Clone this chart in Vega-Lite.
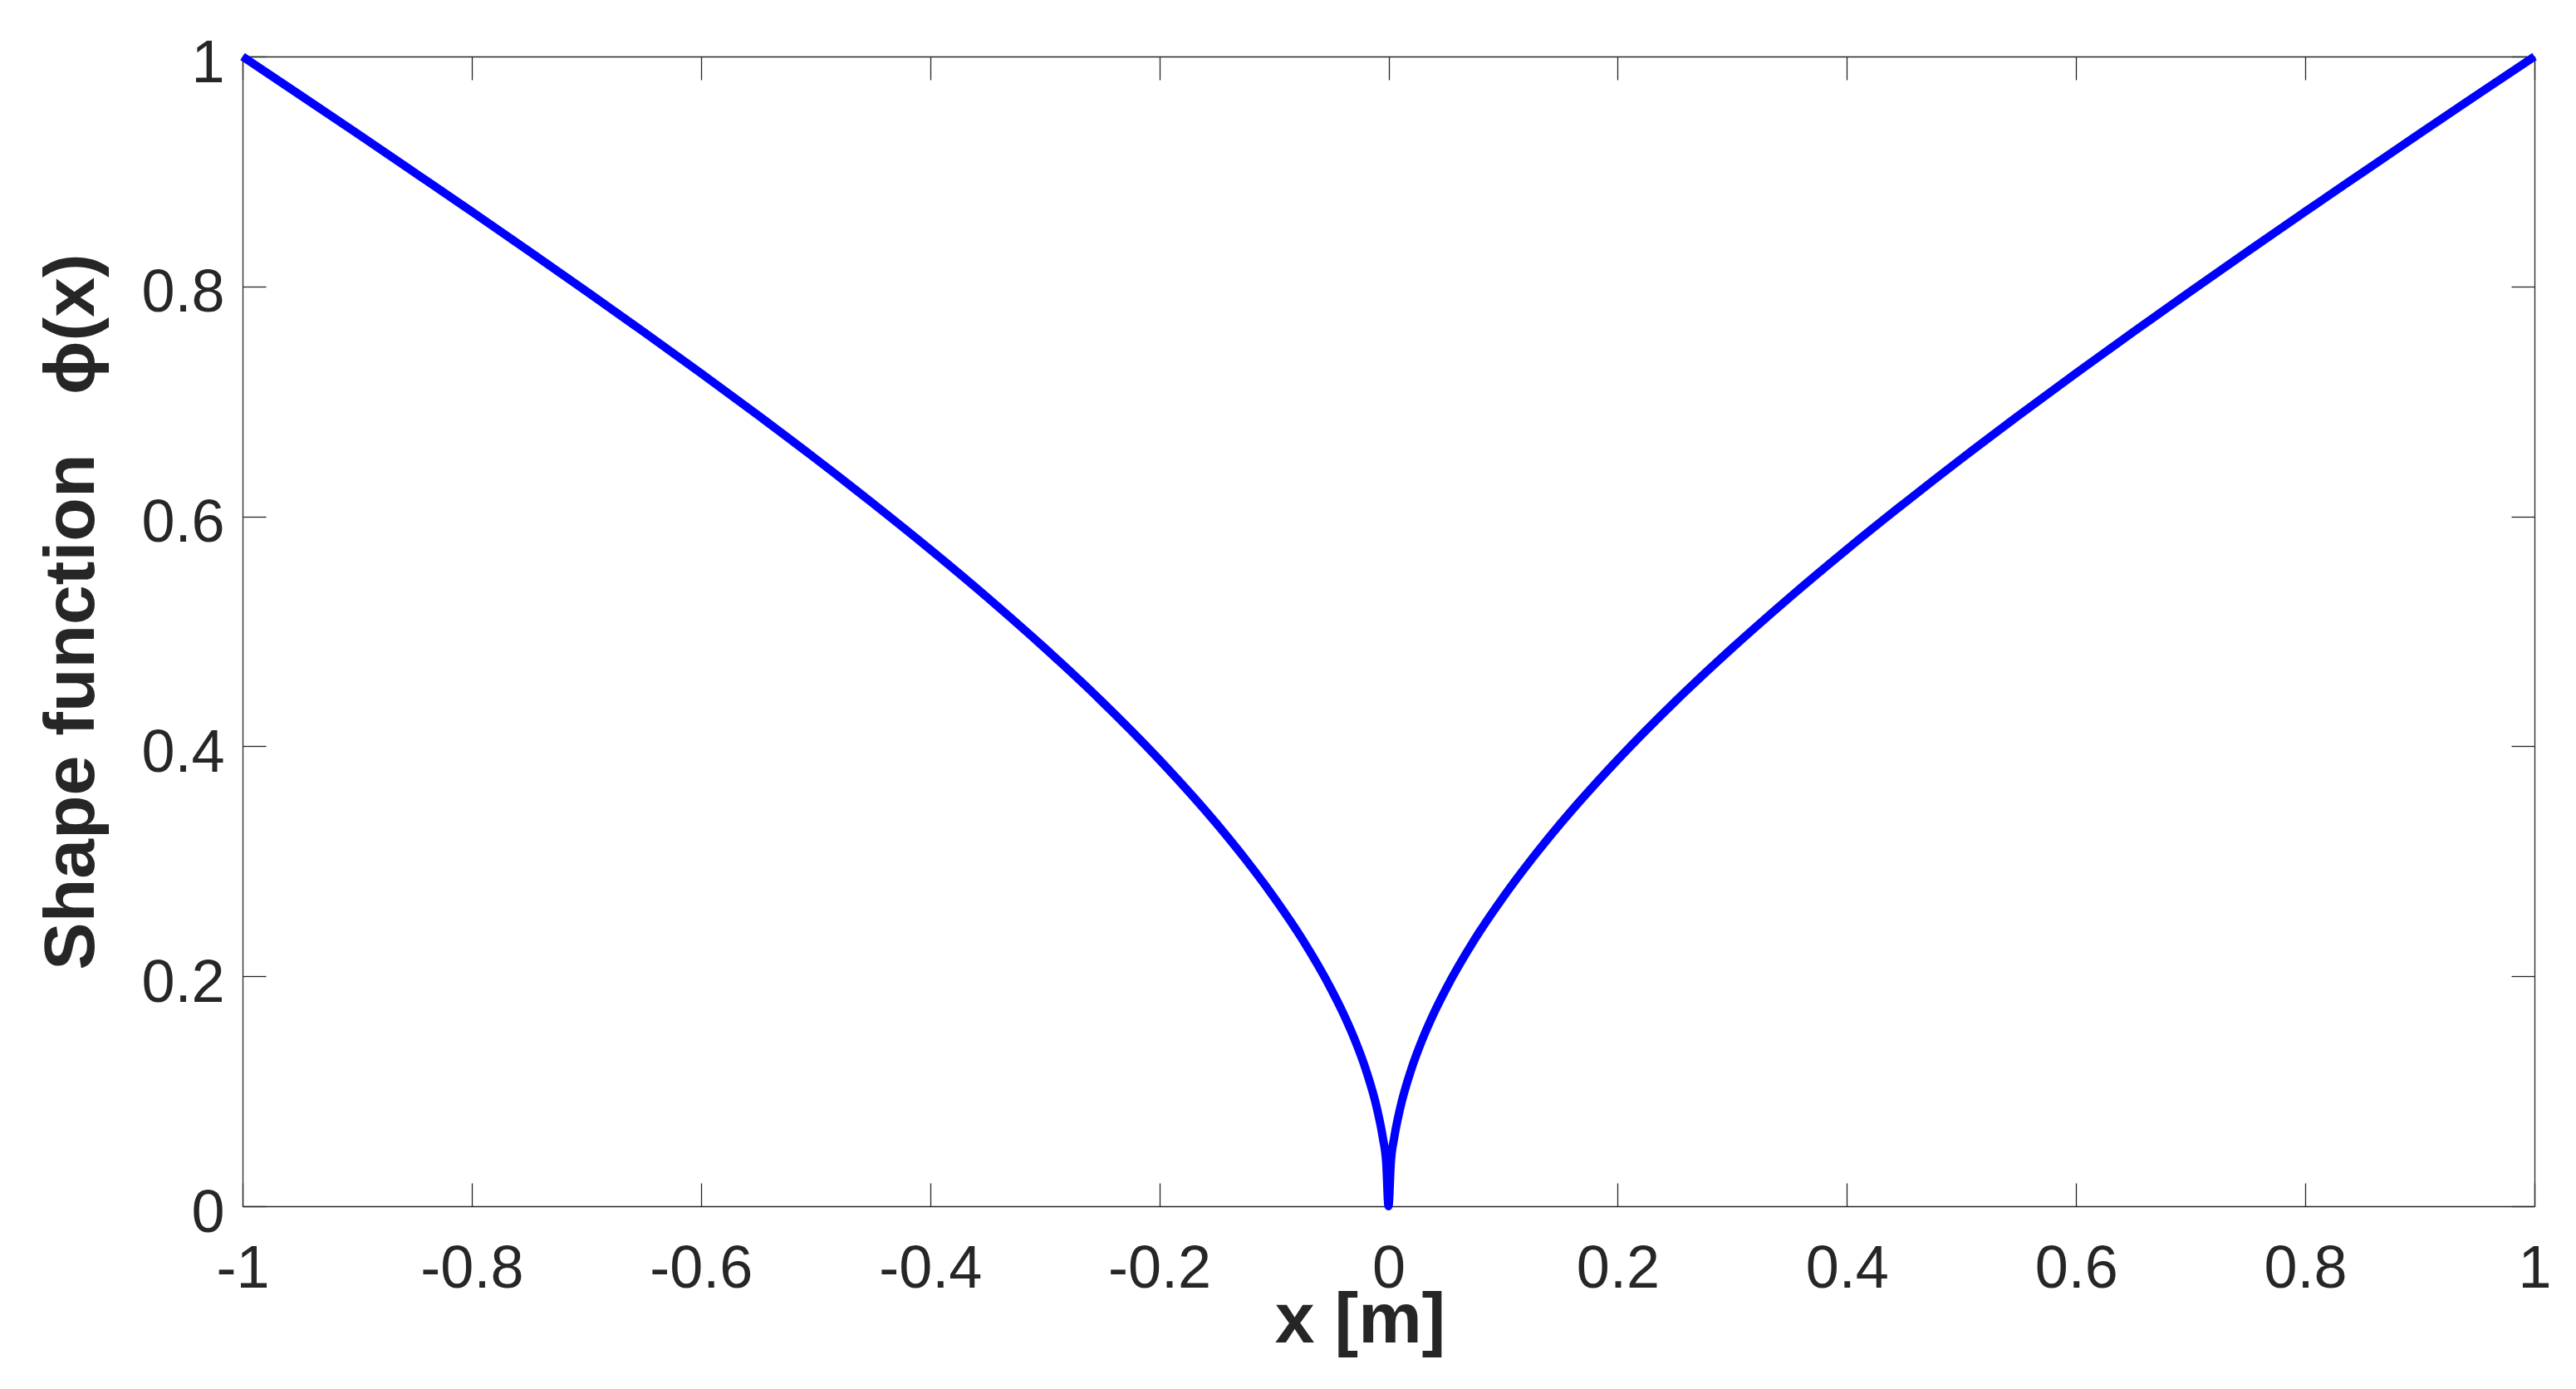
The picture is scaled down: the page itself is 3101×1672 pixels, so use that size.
{
  "$schema": "https://vega.github.io/schema/vega-lite/v6.json",
  "autosize": {"type": "none"},
  "width": 2759,
  "height": 1384,
  "padding": {"left": 292, "top": 68, "right": 50, "bottom": 220},
  "background": "white",
  "config": {"view": {"stroke": null}, "font": "Liberation Sans"},
  "data": {
    "values": [
      {"x": -1, "phi": 1},
      {"x": -0.95, "phi": 0.9666},
      {"x": -0.9, "phi": 0.933},
      {"x": -0.85, "phi": 0.8991},
      {"x": -0.8, "phi": 0.8651},
      {"x": -0.75, "phi": 0.8306},
      {"x": -0.7, "phi": 0.7958},
      {"x": -0.65, "phi": 0.7605},
      {"x": -0.6, "phi": 0.7245},
      {"x": -0.55, "phi": 0.6878},
      {"x": -0.5, "phi": 0.6502},
      {"x": -0.45, "phi": 0.6114},
      {"x": -0.4, "phi": 0.5713},
      {"x": -0.35, "phi": 0.5295},
      {"x": -0.3, "phi": 0.4855},
      {"x": -0.25, "phi": 0.4389},
      {"x": -0.2, "phi": 0.3884},
      {"x": -0.15, "phi": 0.3327},
      {"x": -0.125, "phi": 0.302},
      {"x": -0.1, "phi": 0.2687},
      {"x": -0.075, "phi": 0.2318},
      {"x": -0.05, "phi": 0.1887},
      {"x": -0.04, "phi": 0.1688},
      {"x": -0.03, "phi": 0.1462},
      {"x": -0.02, "phi": 0.1195},
      {"x": -0.01, "phi": 0.0846},
      {"x": -0.005, "phi": 0.0598},
      {"x": -0.002, "phi": 0.0378},
      {"x": 0, "phi": 0},
      {"x": 0.002, "phi": 0.0378},
      {"x": 0.005, "phi": 0.0598},
      {"x": 0.01, "phi": 0.0846},
      {"x": 0.02, "phi": 0.1195},
      {"x": 0.03, "phi": 0.1462},
      {"x": 0.04, "phi": 0.1688},
      {"x": 0.05, "phi": 0.1887},
      {"x": 0.075, "phi": 0.2318},
      {"x": 0.1, "phi": 0.2687},
      {"x": 0.125, "phi": 0.302},
      {"x": 0.15, "phi": 0.3327},
      {"x": 0.2, "phi": 0.3884},
      {"x": 0.25, "phi": 0.4389},
      {"x": 0.3, "phi": 0.4855},
      {"x": 0.35, "phi": 0.5295},
      {"x": 0.4, "phi": 0.5713},
      {"x": 0.45, "phi": 0.6114},
      {"x": 0.5, "phi": 0.6502},
      {"x": 0.55, "phi": 0.6878},
      {"x": 0.6, "phi": 0.7245},
      {"x": 0.65, "phi": 0.7605},
      {"x": 0.7, "phi": 0.7958},
      {"x": 0.75, "phi": 0.8306},
      {"x": 0.8, "phi": 0.8651},
      {"x": 0.85, "phi": 0.8991},
      {"x": 0.9, "phi": 0.933},
      {"x": 0.95, "phi": 0.9666},
      {"x": 1, "phi": 1}
    ]
  },
  "layer": [
    {
      "mark": {"type": "line", "color": "#0000ff", "strokeWidth": 10, "interpolate": "monotone"},
      "encoding": {
        "x": {
          "field": "x", "type": "quantitative",
          "scale": {"domain": [-1, 1], "nice": false, "zero": false},
          "axis": {
            "orient": "bottom",
            "values": [-1, -0.8, -0.6, -0.4, -0.2, 0, 0.2, 0.4, 0.6, 0.8, 1],
            "labelExpr": "toString(datum.value)",
            "labelFont": "Liberation Sans", "labelFontSize": 72, "labelColor": "#262626",
            "labelPadding": 68, "labelFlush": false, "labelOverlap": false, "labelBound": false,
            "tickSize": -28, "tickColor": "#262626", "tickWidth": 1.3,
            "domainColor": "#262626", "domainWidth": 1.3, "grid": false,
            "title": "x [m]", "titleFont": "Liberation Sans", "titleFontSize": 86, "titleFontWeight": "bold",
            "titleColor": "#262626", "titleX": 1345, "titleY": 163, "titleBaseline": "alphabetic", "titleAlign": "center"
          }
        },
        "y": {
          "field": "phi", "type": "quantitative",
          "scale": {"domain": [0, 1], "nice": false, "zero": false},
          "axis": {
            "orient": "left",
            "values": [0, 0.2, 0.4, 0.6, 0.8, 1],
            "labelExpr": "toString(datum.value)",
            "labelFont": "Liberation Sans", "labelFontSize": 72, "labelColor": "#262626",
            "labelPadding": 50, "labelOffset": 8, "labelFlush": false, "labelOverlap": false, "labelBound": false,
            "tickSize": -28, "tickColor": "#262626", "tickWidth": 1.3,
            "domainColor": "#262626", "domainWidth": 1.3, "grid": false,
            "title": "Shape function\u00a0\u00a0\u00a0ϕ(x)", "titleFont": "Liberation Sans", "titleFontSize": 86, "titleFontWeight": "bold",
            "titleColor": "#262626", "titleX": -180, "titleY": 668, "titleBaseline": "alphabetic", "titleAlign": "center", "titleAngle": -90
          }
        }
      }
    },
    {
      "mark": {"type": "line", "opacity": 0},
      "encoding": {
        "x": {
          "field": "x", "type": "quantitative",
          "axis": {
            "orient": "top",
            "values": [-1, -0.8, -0.6, -0.4, -0.2, 0, 0.2, 0.4, 0.6, 0.8, 1],
            "labels": false, "title": null, "grid": false,
            "tickSize": -28, "tickColor": "#262626", "tickWidth": 1.3,
            "domainColor": "#262626", "domainWidth": 1.3
          }
        },
        "y": {
          "field": "phi", "type": "quantitative",
          "axis": {
            "orient": "right",
            "values": [0, 0.2, 0.4, 0.6, 0.8, 1],
            "labels": false, "title": null, "grid": false,
            "tickSize": -28, "tickColor": "#262626", "tickWidth": 1.3,
            "domainColor": "#262626", "domainWidth": 1.3
          }
        }
      }
    }
  ],
  "resolve": {"axis": {"x": "independent", "y": "independent"}}
}
